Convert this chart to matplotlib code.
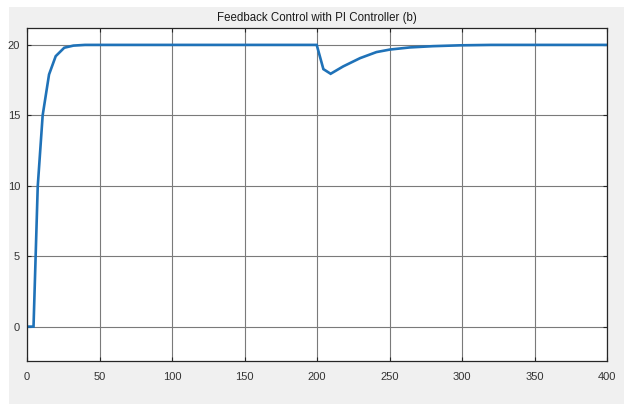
import matplotlib
matplotlib.use("Agg")
import matplotlib.pyplot as plt
from matplotlib.patches import Rectangle

# signal samples
t = [0, 4.5, 7.4, 10.8, 15.2, 19.8, 25.7, 32, 40, 60, 100, 150, 199.8,
     204.4, 209.4, 218, 229.7, 241, 250.3, 264, 280, 298.6, 320, 350, 400]
y = [0, 0, 9.95, 15.0, 17.9, 19.2, 19.8, 19.95, 20, 20, 20, 20, 20,
     18.28, 17.95, 18.47, 19.06, 19.49, 19.67, 19.82, 19.91, 19.97, 20, 20, 20]

xticks = [0, 50, 100, 150, 200, 250, 300, 350, 400]
yticks = [0, 5, 10, 15, 20]

plt.rcParams['font.family'] = ['Liberation Sans', 'DejaVu Sans']
txt = '#262626'

fig = plt.figure(figsize=[6.24, 4.04], dpi=100)
fig.patch.set_facecolor('white')
# gray panel behind the axes, offset from the top-left corner
fig.patches.append(Rectangle((9/624, 0), 1 - 9/624, 1 - 7/404,
                             transform=fig.transFigure, facecolor='#f0f0f0',
                             edgecolor='none', zorder=-10))

ax = fig.add_axes([27/624, 43.3/404, 580/624, 332.7/404])
ax.set_facecolor('white')
ax.plot(t, y, color='#1f72b8', lw=1.9, solid_joinstyle='miter')
ax.set_xlim(0, 400)
ax.set_ylim(-2.42, 21.2)
ax.set_xticks(xticks)
ax.set_yticks(yticks)
ax.grid(True, color='#7a7a7a', lw=0.8)
ax.set_axisbelow(True)
for s in ax.spines.values():
    s.set_color(txt)
    s.set_linewidth(0.9)
ax.tick_params(direction='in', length=3, color=txt, labelcolor='#333333',
               labelsize=8, top=True, right=True)
ax.tick_params(axis='x', pad=8)
ax.tick_params(axis='y', pad=5)
ax.set_title('Feedback Control with PI Controller (b)', fontsize=8.3, color='#1a1a1a', pad=5)

fig.savefig('out.png', dpi=100, facecolor=fig.get_facecolor())
